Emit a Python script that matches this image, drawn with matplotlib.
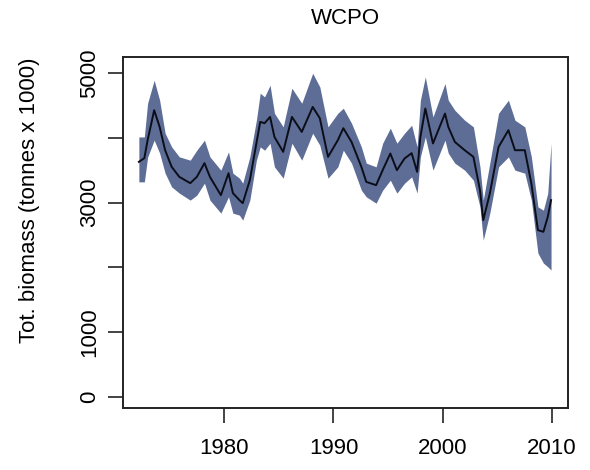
import matplotlib
matplotlib.use("Agg")
import matplotlib.pyplot as plt

# year, median biomass, upper and lower bound (tonnes x 1000)
years = [1972.2, 1972.7, 1973.0, 1973.6, 1974.1, 1974.6, 1975.2, 1975.9, 1976.9, 1977.5,
         1978.2, 1978.7, 1979.7, 1980.4, 1980.8, 1981.4, 1981.7, 1982.35, 1982.95, 1983.3,
         1983.7, 1984.2, 1984.6, 1985.4, 1986.2, 1987.1, 1988.1, 1988.75, 1989.5, 1990.4,
         1990.9, 1991.65, 1992.55, 1993.0, 1993.9, 1994.5, 1995.2, 1995.8, 1996.5, 1997.15,
         1997.65, 1997.95, 1998.4, 1999.1, 2000.2, 2000.5, 2001.1, 2002.0, 2002.8, 2003.4,
         2003.7, 2004.3, 2005.1, 2006.0, 2006.6, 2007.5, 2008.1, 2008.7, 2009.2, 2009.6,
         2009.9]
biomass = [3631, 3688, 3966, 4428, 4171, 3811, 3554, 3399, 3302, 3399,
           3611, 3399, 3117, 3456, 3148, 3040, 2993, 3348, 3919, 4248,
           4228, 4325, 4016, 3785, 4325, 4094, 4479, 4305, 3708, 3966,
           4151, 3939, 3554, 3322, 3271, 3503, 3760, 3503, 3683, 3765,
           3476, 4016, 4455, 3915, 4377, 4171, 3939, 3811, 3708, 3194,
           2731, 3143, 3862, 4120, 3811, 3811, 3297, 2577, 2551, 2782,
           3040]
upper = [4016, 4016, 4536, 4891, 4583, 4074, 3862, 3708, 3657, 3811,
         3966, 3708, 3503, 3785, 3456, 3379, 3302, 3708, 4274, 4691,
         4634, 4814, 4382, 4171, 4768, 4536, 4999, 4788, 4171, 4382,
         4459, 4228, 3862, 3611, 3554, 3919, 4151, 3919, 4074, 4197,
         3862, 4583, 4942, 4325, 4840, 4583, 4428, 4274, 4171, 3554,
         3040, 3611, 4382, 4583, 4274, 4171, 3708, 2936, 2885, 3148,
         3919]
lower = [3322, 3322, 3703, 3966, 3765, 3456, 3245, 3148, 3040, 3117,
         3302, 3040, 2839, 3091, 2839, 2808, 2731, 3040, 3657, 3862,
         3811, 3919, 3554, 3379, 3919, 3657, 4074, 3888, 3379, 3554,
         3811, 3611, 3194, 3091, 2993, 3194, 3348, 3148, 3302, 3399,
         3148, 3708, 4016, 3503, 3966, 3765, 3611, 3503, 3348, 2936,
         2423, 2839, 3554, 3708, 3503, 3456, 3040, 2222, 2068, 2011,
         1960]

x_ticks = [1980, 1990, 2000, 2010]
y_ticks = [0, 1000, 2000, 3000, 4000, 5000]
y_labels = ["0", "1000", "", "3000", "", "5000"]

plt.rcParams["font.family"] = ["Liberation Sans", "DejaVu Sans"]

fig = plt.figure(figsize=(5.9, 4.7), dpi=100)
ax = fig.add_axes([0.2085, 0.1319, 0.7542, 0.7468])

ax.fill_between(years, lower, upper, color="#5d6d96", linewidth=0)
ax.plot(years, biomass, color="#0b0d18", linewidth=1.4)

ax.set_xlim(1970.75, 2011.45)
ax.set_ylim(-170, 5250)

ax.set_xticks(x_ticks)
ax.set_xticklabels([str(t) for t in x_ticks])
ax.set_yticks(y_ticks)
ax.set_yticklabels(y_labels, rotation=90, va="center")
ax.tick_params(axis="both", direction="out", length=10.5, width=1.2,
               labelsize=16, color="#222222")
ax.tick_params(axis="x", pad=11)
ax.tick_params(axis="y", pad=6)

for s in ax.spines.values():
    s.set_linewidth(1.4)
    s.set_color("#222222")

ax.set_ylabel("Tot. biomass (tonnes x 1000)", fontsize=16)
ax.yaxis.set_label_coords(-0.187, 0.593)

fig.text(345 / 590, 1 - 18 / 470, "WCPO", fontsize=16, ha="center", va="center")

fig.savefig("out.png", dpi=100)
